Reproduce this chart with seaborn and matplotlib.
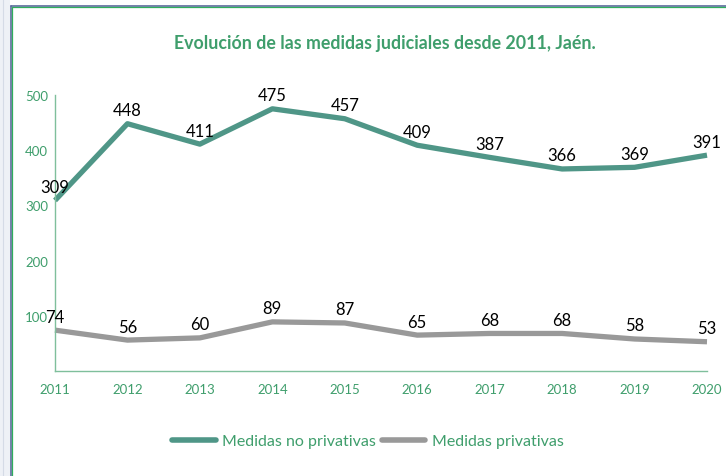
import matplotlib
matplotlib.use("Agg")
import matplotlib.pyplot as plt
import seaborn as sns
import pandas as pd
from matplotlib.patches import Rectangle
from matplotlib.lines import Line2D

years = [2011, 2012, 2013, 2014, 2015, 2016, 2017, 2018, 2019, 2020]
no_privativas = [309, 448, 411, 475, 457, 409, 387, 366, 369, 391]
privativas = [74, 56, 60, 89, 87, 65, 68, 68, 58, 53]
series_names = ["Medidas no privativas", "Medidas privativas"]

teal = "#4f9687"
grey = "#999999"
green_txt = "#3f9e6c"

df = pd.DataFrame({"Año": years * 2,
                   "Valor": no_privativas + privativas,
                   "Serie": [series_names[0]] * len(years) + [series_names[1]] * len(years)})

sns.set_style("white")
plt.rcParams["font.family"] = ["Lato", "DejaVu Sans"]

fig = plt.figure(figsize=(7.26, 4.77), dpi=100)

# frame of the chart area
fig.patches.append(Rectangle((0, 0), 10 / 726, 1, transform=fig.transFigure,
                             facecolor="#eef1f6", edgecolor="none", zorder=0))
fig.lines.append(Line2D([2.5 / 726, 2.5 / 726], [0, 1], transform=fig.transFigure,
                        color="#d5dbe6", lw=0.8))
fig.lines.append(Line2D([10.5 / 726, 10.5 / 726], [0, 1 - 6.5 / 477], transform=fig.transFigure,
                        color="#5a6b9c", lw=1.2))
fig.lines.append(Line2D([10.5 / 726, 1], [1 - 6.5 / 477, 1 - 6.5 / 477], transform=fig.transFigure,
                        color="#5a6b9c", lw=1.2))
fig.lines.append(Line2D([12 / 726, 12 / 726], [0, 1 - 8 / 477], transform=fig.transFigure,
                        color="#2fae5c", lw=0.9))
fig.lines.append(Line2D([12 / 726, 1], [1 - 8 / 477, 1 - 8 / 477], transform=fig.transFigure,
                        color="#2fae5c", lw=0.9))

ax = fig.add_axes([55 / 726, 1 - 372 / 477, 652 / 726, 276 / 477])
sns.lineplot(data=df, x="Año", y="Valor", hue="Serie", palette=[teal, grey],
             linewidth=3.8, ax=ax, legend=False, clip_on=False, solid_capstyle="butt")

ax.set_xlim(2011, 2020)
ax.set_ylim(0, 500)
ax.set_yticks([100, 200, 300, 400, 500])
ax.set_xticks(years)
ax.set_xlabel("")
ax.set_ylabel("")
for s in ["top", "right"]:
    ax.spines[s].set_visible(False)
for s in ["left", "bottom"]:
    ax.spines[s].set_color("#7fbf9c")
    ax.spines[s].set_linewidth(1.0)
ax.tick_params(axis="both", length=0, labelsize=9.5, labelcolor=green_txt)
ax.tick_params(axis="y", pad=5)
ax.tick_params(axis="x", pad=9)

# data labels above each point
for x, v in zip(years, no_privativas):
    ax.annotate(str(v), (x, v), xytext=(0, 4), textcoords="offset points",
                ha="center", va="bottom", fontsize=12, color="black")
for x, v in zip(years, privativas):
    ax.annotate(str(v), (x, v), xytext=(0, 4), textcoords="offset points",
                ha="center", va="bottom", fontsize=12, color="black")

fig.text(385 / 726, 1 - 44 / 477, "Evolución de las medidas judiciales desde 2011, Jaén.",
         ha="center", va="center", fontsize=12.8, fontweight="bold", color=green_txt)

handles = [Line2D([], [], color=teal, lw=4), Line2D([], [], color=grey, lw=4)]
leg = fig.legend(handles, series_names, loc="center", bbox_to_anchor=(368 / 726, 1 - 442 / 477),
                 ncol=2, frameon=False, fontsize=11.5, handlelength=2.7, columnspacing=0.4,
                 handletextpad=0.4)
for t in leg.get_texts():
    t.set_color(green_txt)

fig.savefig("out.png", dpi=100)
